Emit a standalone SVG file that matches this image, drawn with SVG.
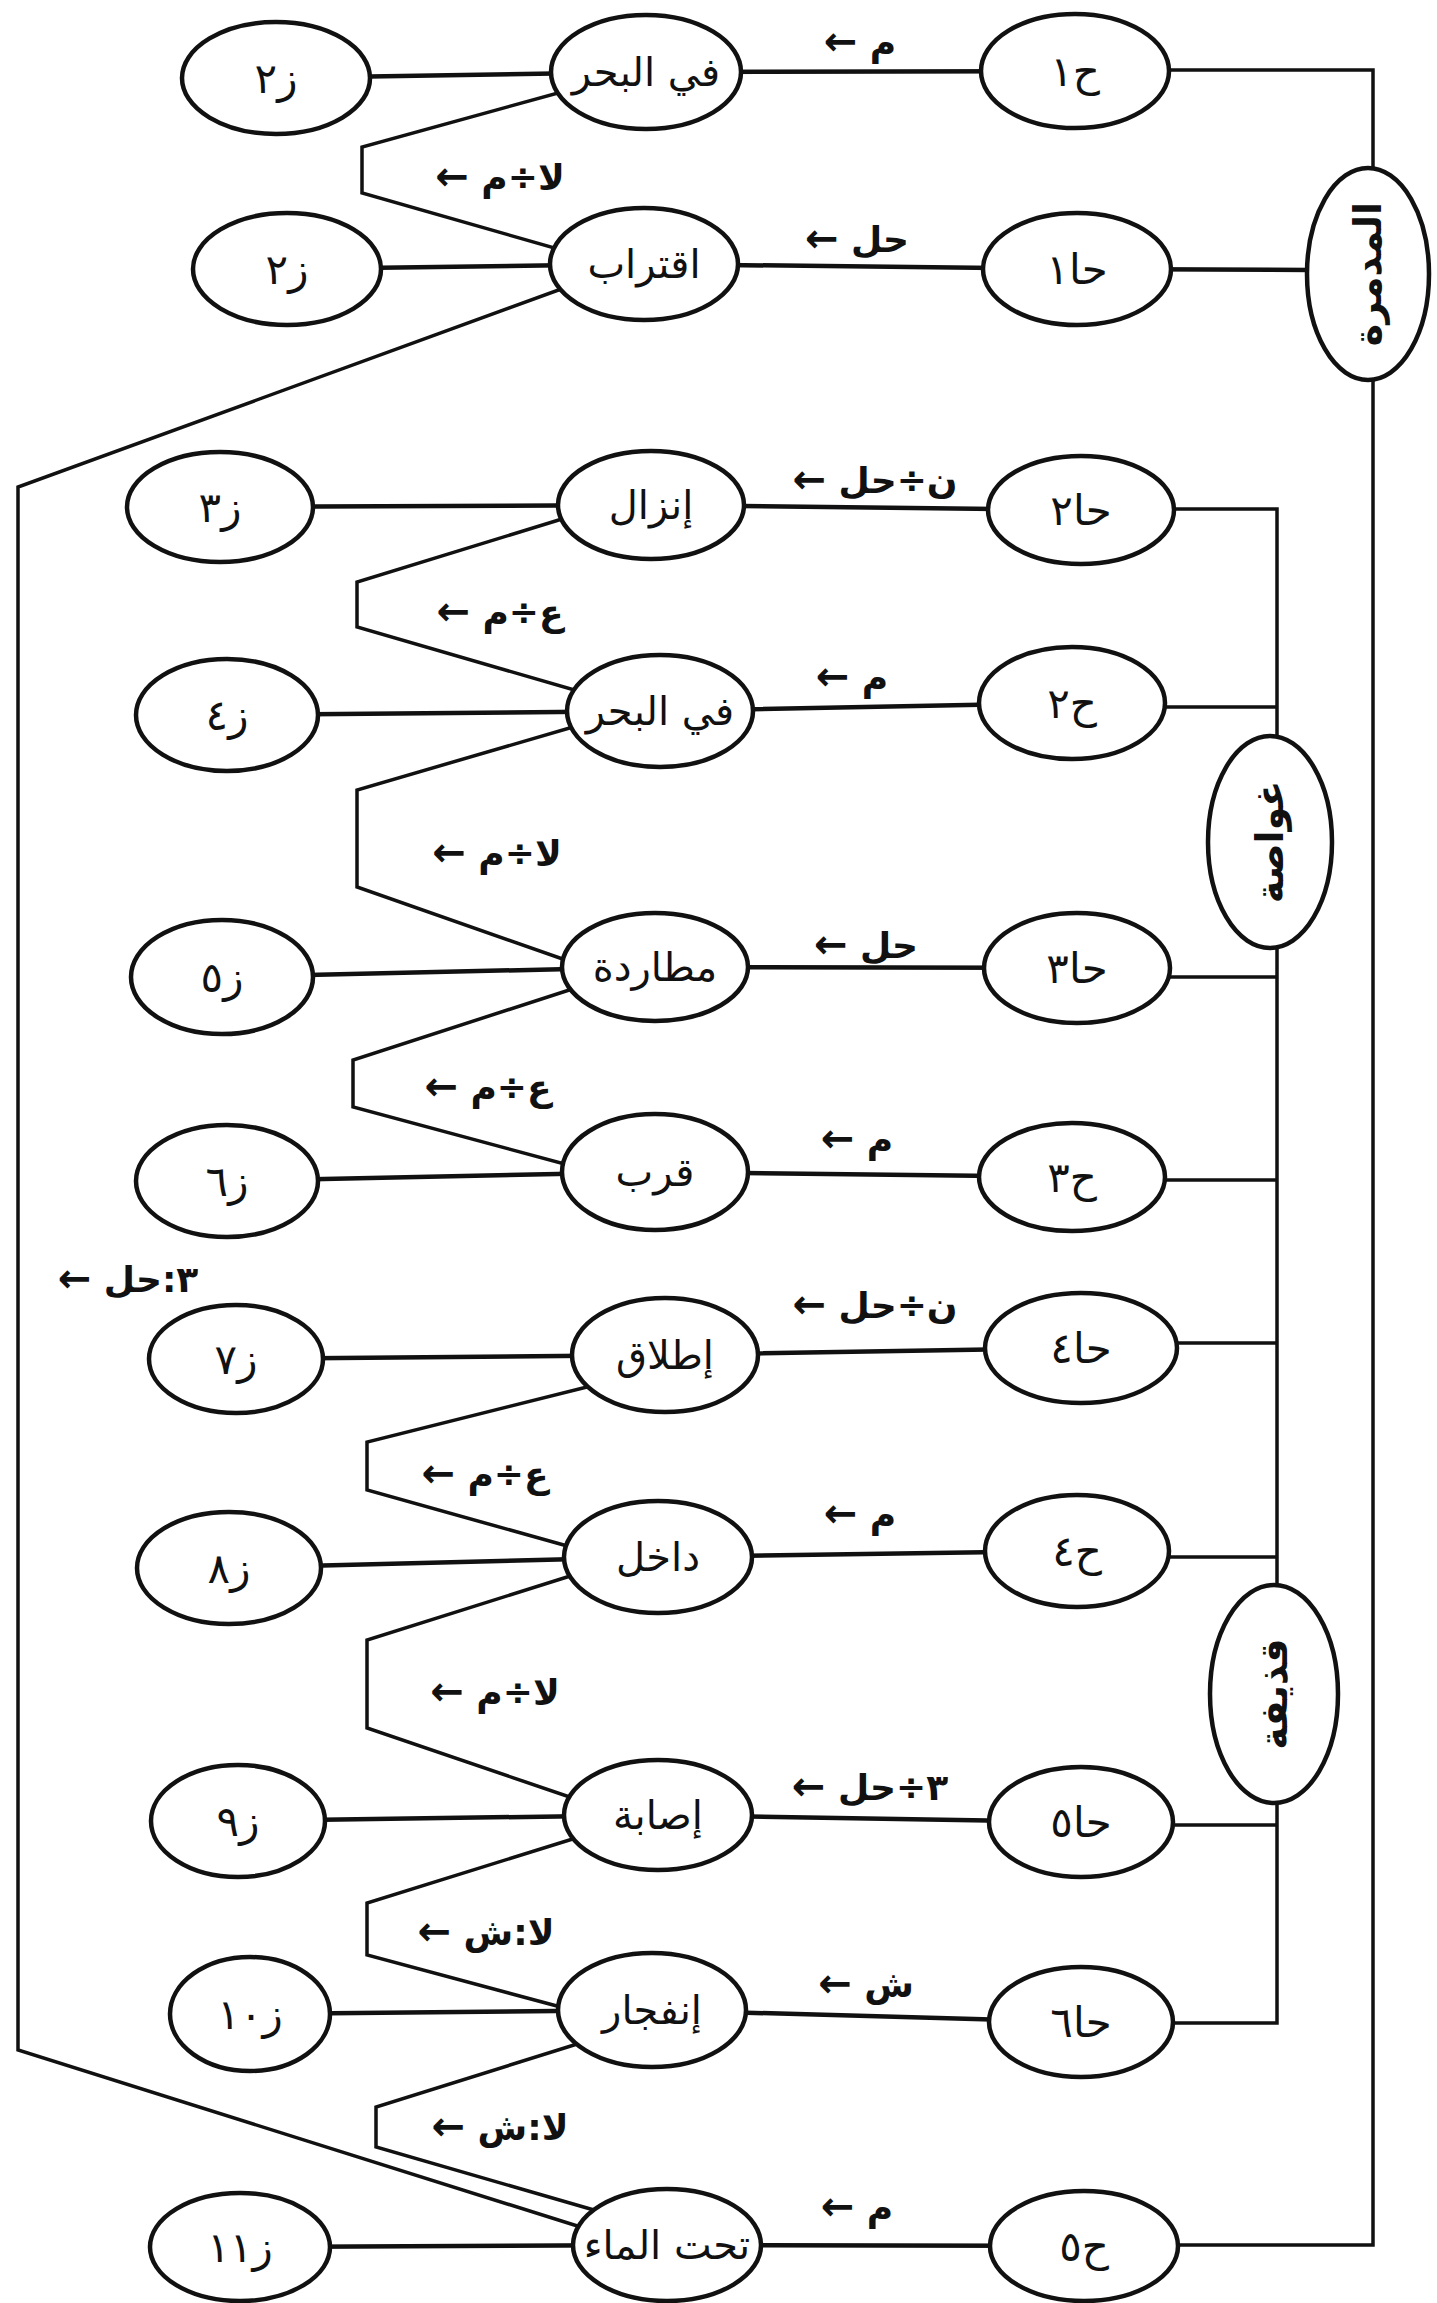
<svg xmlns="http://www.w3.org/2000/svg" width="1437" height="2303" viewBox="0 0 1437 2303">
<style>
.bg{fill:#fff}
.node ellipse{fill:#fff;stroke:#111;stroke-width:4.5}
.node text{font-family:"DejaVu Sans",sans-serif;font-size:42px;text-anchor:middle;dominant-baseline:central;fill:#111}
.node text.m{font-size:40px}
.node text.v{font-size:38px;font-weight:bold}
.conn path{fill:none;stroke:#111;stroke-width:4.5;stroke-linejoin:miter}
.conn path.thin{stroke-width:3.5}
.lbl{font-family:"DejaVu Sans",sans-serif;font-size:36px;font-weight:bold;text-anchor:middle;fill:#111}
.lbl tspan.ar{font-size:40px}
</style>
<rect class="bg" x="0" y="0" width="1437" height="2303"/>
<g id="connectors" class="conn">
<path d="M276 78 L646 72 L1075 71"/>
<path d="M287 269 L644 264 L1077 269 L1310 270"/>
<path d="M220 507 L651 505 L1081 510"/>
<path d="M227 715 L660 711 L1072 703"/>
<path d="M222 977 L655 967 L1077 968"/>
<path d="M227 1181 L655 1172 L1072 1177"/>
<path d="M236 1359 L665 1355 L1081 1348"/>
<path d="M229 1568 L658 1557 L1077 1551"/>
<path d="M238 1821 L658 1815 L1081 1822"/>
<path d="M250 2014 L652 2010 L1081 2022"/>
<path d="M240 2247 L667 2245 L1084 2246"/>
<path class="thin" d="M1075 70 H1373 V2245 H1084"/>
<path class="thin" d="M1081 509 H1277 V2023 H1081"/>
<path class="thin" d="M1072 707 H1277"/>
<path class="thin" d="M1077 977 H1277"/>
<path class="thin" d="M1072 1180 H1277"/>
<path class="thin" d="M1081 1343 H1277"/>
<path class="thin" d="M1077 1557 H1277"/>
<path class="thin" d="M1081 1825 H1277"/>
<path class="thin" d="M597 276 L18 487 V2050 L606 2235"/>
<path class="thin" d="M598 82 L362 147 V193 L593 259"/>
<path class="thin" d="M588 511 L357 582 V627 L602 698"/>
<path class="thin" d="M597 720 L357 790 V887 L597 971"/>
<path class="thin" d="M597 981 L353 1060 V1107 L598 1173"/>
<path class="thin" d="M607 1382 L367 1442 V1490 L603 1556"/>
<path class="thin" d="M602 1566 L367 1640 V1728 L602 1808"/>
<path class="thin" d="M608 1828 L367 1903 V1955 L598 2017"/>
<path class="thin" d="M606 2035 L376 2107 V2147 L625 2219"/>
</g>
<g id="labels">
<text class="lbl" x="860" y="55"><tspan class="ar">←</tspan> م</text>
<text class="lbl" x="500" y="190"><tspan class="ar">←</tspan> لا÷م</text>
<text class="lbl" x="857" y="252"><tspan class="ar">←</tspan> حل</text>
<text class="lbl" x="875" y="493"><tspan class="ar">←</tspan> ن÷حل</text>
<text class="lbl" x="500" y="625"><tspan class="ar">←</tspan> ع÷م</text>
<text class="lbl" x="852" y="690"><tspan class="ar">←</tspan> م</text>
<text class="lbl" x="497" y="866"><tspan class="ar">←</tspan> لا÷م</text>
<text class="lbl" x="866" y="958"><tspan class="ar">←</tspan> حل</text>
<text class="lbl" x="488" y="1100"><tspan class="ar">←</tspan> ع÷م</text>
<text class="lbl" x="857" y="1152"><tspan class="ar">←</tspan> م</text>
<text class="lbl" x="128" y="1292"><tspan class="ar">←</tspan> ٣:حل</text>
<text class="lbl" x="875" y="1318"><tspan class="ar">←</tspan> ن÷حل</text>
<text class="lbl" x="485" y="1487"><tspan class="ar">←</tspan> ع÷م</text>
<text class="lbl" x="860" y="1527"><tspan class="ar">←</tspan> م</text>
<text class="lbl" x="495" y="1705"><tspan class="ar">←</tspan> لا÷م</text>
<text class="lbl" x="870" y="1800"><tspan class="ar">←</tspan> ٣÷حل</text>
<text class="lbl" x="486" y="1945"><tspan class="ar">←</tspan> لا:ش</text>
<text class="lbl" x="866" y="1997"><tspan class="ar">←</tspan> ش</text>
<text class="lbl" x="500" y="2140"><tspan class="ar">←</tspan> لا:ش</text>
<text class="lbl" x="857" y="2220"><tspan class="ar">←</tspan> م</text>
</g>
<g id="g-destroyer" class="node"><ellipse cx="1368" cy="274" rx="61" ry="106"/><text class="v" transform="rotate(-90 1368 274)" x="1368" y="274">المدمرة</text></g>
<g id="g-submarine" class="node"><ellipse cx="1270" cy="842" rx="62" ry="106"/><text class="v" transform="rotate(-90 1270 842)" x="1270" y="842">غواصة</text></g>
<g id="g-shell" class="node"><ellipse cx="1274" cy="1694" rx="64" ry="109"/><text class="v" transform="rotate(-90 1274 1694)" x="1274" y="1694">قذيفة</text></g>
<g id="z-r1" class="node"><ellipse cx="276" cy="78" rx="94" ry="56"/><text x="276" y="78">ز٢</text></g>
<g id="m-r1" class="node"><ellipse cx="646" cy="72" rx="95" ry="57"/><text class="m" x="646" y="72">في البحر</text></g>
<g id="h-r1" class="node"><ellipse cx="1075" cy="71" rx="94" ry="57"/><text x="1075" y="71">ح١</text></g>
<g id="z-r2" class="node"><ellipse cx="287" cy="269" rx="94" ry="56"/><text x="287" y="269">ز٢</text></g>
<g id="m-r2" class="node"><ellipse cx="644" cy="264" rx="94" ry="56"/><text class="m" x="644" y="264">اقتراب</text></g>
<g id="h-r2" class="node"><ellipse cx="1077" cy="269" rx="94" ry="56"/><text x="1077" y="269">حا١</text></g>
<g id="z-r3" class="node"><ellipse cx="220" cy="507" rx="93" ry="55"/><text x="220" y="507">ز٣</text></g>
<g id="m-r3" class="node"><ellipse cx="651" cy="505" rx="93" ry="54"/><text class="m" x="651" y="505">إنزال</text></g>
<g id="h-r3" class="node"><ellipse cx="1081" cy="510" rx="93" ry="54"/><text x="1081" y="510">حا٢</text></g>
<g id="z-r4" class="node"><ellipse cx="227" cy="715" rx="91" ry="56"/><text x="227" y="715">ز٤</text></g>
<g id="m-r4" class="node"><ellipse cx="660" cy="711" rx="93" ry="56"/><text class="m" x="660" y="711">في البحر</text></g>
<g id="h-r4" class="node"><ellipse cx="1072" cy="703" rx="93" ry="56"/><text x="1072" y="703">ح٢</text></g>
<g id="z-r5" class="node"><ellipse cx="222" cy="977" rx="91" ry="57"/><text x="222" y="977">ز٥</text></g>
<g id="m-r5" class="node"><ellipse cx="655" cy="967" rx="93" ry="54"/><text class="m" x="655" y="967">مطاردة</text></g>
<g id="h-r5" class="node"><ellipse cx="1077" cy="968" rx="93" ry="55"/><text x="1077" y="968">حا٣</text></g>
<g id="z-r6" class="node"><ellipse cx="227" cy="1181" rx="91" ry="56"/><text x="227" y="1181">ز٦</text></g>
<g id="m-r6" class="node"><ellipse cx="655" cy="1172" rx="93" ry="58"/><text class="m" x="655" y="1172">قرب</text></g>
<g id="h-r6" class="node"><ellipse cx="1072" cy="1177" rx="93" ry="54"/><text x="1072" y="1177">ح٣</text></g>
<g id="z-r7" class="node"><ellipse cx="236" cy="1359" rx="87" ry="54"/><text x="236" y="1359">ز٧</text></g>
<g id="m-r7" class="node"><ellipse cx="665" cy="1355" rx="93" ry="57"/><text class="m" x="665" y="1355">إطلاق</text></g>
<g id="h-r7" class="node"><ellipse cx="1081" cy="1348" rx="96" ry="55"/><text x="1081" y="1348">حا٤</text></g>
<g id="z-r8" class="node"><ellipse cx="229" cy="1568" rx="92" ry="56"/><text x="229" y="1568">ز٨</text></g>
<g id="m-r8" class="node"><ellipse cx="658" cy="1557" rx="94" ry="56"/><text class="m" x="658" y="1557">داخل</text></g>
<g id="h-r8" class="node"><ellipse cx="1077" cy="1551" rx="92" ry="56"/><text x="1077" y="1551">ح٤</text></g>
<g id="z-r9" class="node"><ellipse cx="238" cy="1821" rx="87" ry="56"/><text x="238" y="1821">ز٩</text></g>
<g id="m-r9" class="node"><ellipse cx="658" cy="1815" rx="94" ry="55"/><text class="m" x="658" y="1815">إصابة</text></g>
<g id="h-r9" class="node"><ellipse cx="1081" cy="1822" rx="92" ry="55"/><text x="1081" y="1822">حا٥</text></g>
<g id="z-r10" class="node"><ellipse cx="250" cy="2014" rx="80" ry="57"/><text x="250" y="2014">ز١٠</text></g>
<g id="m-r10" class="node"><ellipse cx="652" cy="2010" rx="94" ry="57"/><text class="m" x="652" y="2010">إنفجار</text></g>
<g id="h-r10" class="node"><ellipse cx="1081" cy="2022" rx="92" ry="55"/><text x="1081" y="2022">حا٦</text></g>
<g id="z-r11" class="node"><ellipse cx="240" cy="2247" rx="90" ry="54"/><text x="240" y="2247">ز١١</text></g>
<g id="m-r11" class="node"><ellipse cx="667" cy="2245" rx="94" ry="56"/><text class="m" x="667" y="2245">تحت الماء</text></g>
<g id="h-r11" class="node"><ellipse cx="1084" cy="2246" rx="94" ry="55"/><text x="1084" y="2246">ح٥</text></g>
</svg>
